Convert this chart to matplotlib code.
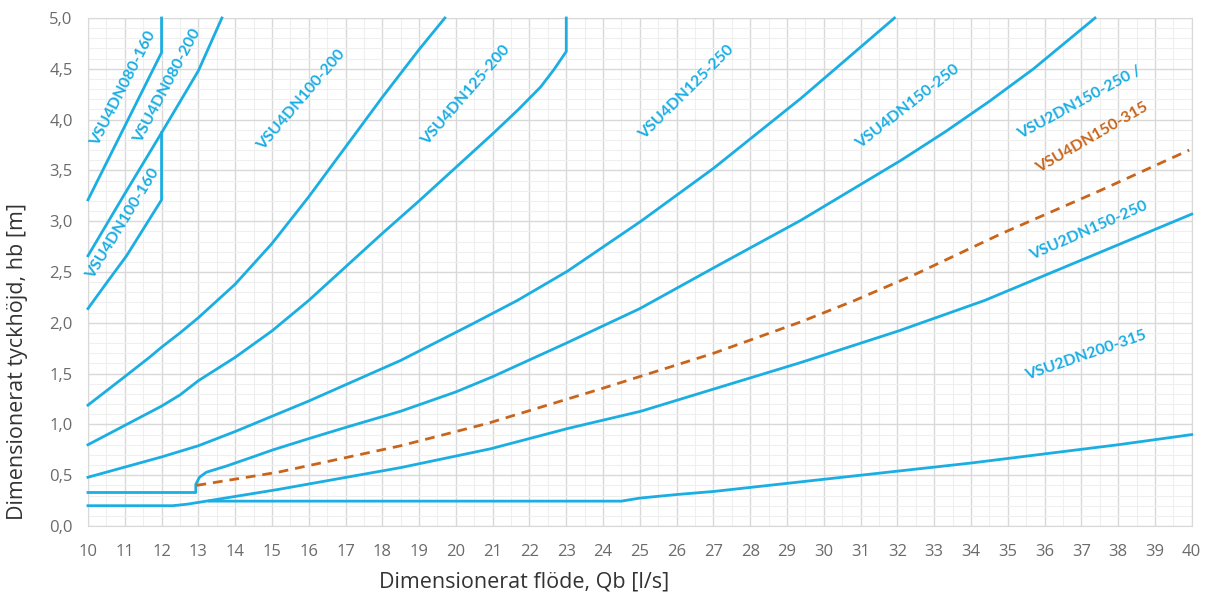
import matplotlib
matplotlib.use("Agg")
import matplotlib.pyplot as plt
from matplotlib.ticker import MultipleLocator, FuncFormatter

# flöde Qb [l/s] och tryckhöjd hb [m] per ventilkombination
x_080_160 = [10, 12, 12]
y_080_160 = [3.21, 4.66, 5.0]

x_080_200 = [10, 11, 12, 13, 13.64]
y_080_200 = [2.66, 3.27, 3.87, 4.48, 5.0]

x_100_160 = [10, 10.5, 11.05, 12, 12]
y_100_160 = [2.14, 2.39, 2.66, 3.21, 3.87]

x_100_200 = [10, 11, 11.67, 12, 12.5, 13, 14, 15, 16, 17, 18, 19, 19.7]
y_100_200 = [1.19, 1.47, 1.66, 1.76, 1.90, 2.05, 2.38, 2.78, 3.24, 3.73, 4.22, 4.69, 5.0]

x_125_200 = [10, 11, 12, 12.5, 13, 14, 15, 16, 17, 18, 19, 20, 21, 21.7, 22.3, 22.66, 23.0, 23.0]
y_125_200 = [0.80, 0.99, 1.18, 1.29, 1.43, 1.66, 1.92, 2.22, 2.55, 2.88, 3.20, 3.53, 3.86, 4.10, 4.32, 4.49, 4.67, 5.0]

x_125_250 = [10, 11, 12, 13, 14, 15, 16, 17, 18.5, 20.4, 21.67, 23.04, 25.03, 27.0, 29.38, 31.92]
y_125_250 = [0.48, 0.58, 0.68, 0.79, 0.93, 1.08, 1.23, 1.39, 1.63, 1.98, 2.22, 2.51, 3.0, 3.52, 4.21, 5.0]

x_150_250 = [10, 12.93, 12.93, 13.03, 13.22, 13.76, 14.4, 15.03, 16, 17, 18.5, 20.0, 21.0,
             23.0, 25.0, 27.0, 29.38, 32.1, 33.3, 34.5, 35.7, 37.37]
y_150_250 = [0.33, 0.33, 0.41, 0.48, 0.53, 0.59, 0.67, 0.75, 0.86, 0.97, 1.13, 1.32, 1.47,
             1.80, 2.14, 2.54, 3.01, 3.60, 3.88, 4.18, 4.50, 5.0]

x_4dn150_315 = [12.95, 15.17, 18.5, 20.86, 23.94, 27, 29.38, 30.84, 32.5, 34.84, 37.5, 39.93]
y_4dn150_315 = [0.40, 0.53, 0.79, 1.01, 1.35, 1.70, 2.01, 2.22, 2.48, 2.88, 3.30, 3.70]

x_2dn150_250 = [10, 12.3, 12.7, 13.3, 15.17, 18.5, 20.94, 23.04, 25.03, 29.38, 32.03, 34.37, 40.0]
y_2dn150_250 = [0.20, 0.20, 0.215, 0.25, 0.36, 0.575, 0.76, 0.96, 1.13, 1.61, 1.92, 2.22, 3.07]

x_2dn200_315 = [13.3, 24.5, 25, 26, 27, 28, 29, 30, 31, 32, 34, 36, 38, 40]
y_2dn200_315 = [0.245, 0.245, 0.275, 0.31, 0.34, 0.38, 0.42, 0.46, 0.50, 0.54, 0.62, 0.71, 0.80, 0.90]

blue = "#1BAEE3"
orange = "#C8651B"
grey = "#6b6b6b"

# etiketter: text, x, y, vinkel, färg
labels = [
    ("VSU4DN080-160", 10.95, 4.31, 63, blue),
    ("VSU4DN080-200", 12.15, 4.33, 62, blue),
    ("VSU4DN100-160", 10.95, 2.97, 58.5, blue),
    ("VSU4DN100-200", 15.79, 4.19, 49.5, blue),
    ("VSU4DN125-200", 20.27, 4.24, 49, blue),
    ("VSU4DN125-250", 26.28, 4.27, 44.7, blue),
    ("VSU4DN150-250", 32.28, 4.13, 38, blue),
    ("VSU2DN150-250 /", 36.96, 4.17, 28.4, blue),
    ("VSU4DN150-315", 37.28, 3.82, 30, orange),
    ("VSU2DN150-250", 37.2, 2.91, 23.7, blue),
    ("VSU2DN200-315", 37.12, 1.68, 19, blue),
]

fig = plt.figure(figsize=(12.05, 5.96), dpi=100)
ax = fig.add_axes([0.073, 0.1174, 0.916, 0.8524])

lw = 2.0
for xs, ys in [(x_080_160, y_080_160), (x_080_200, y_080_200), (x_100_160, y_100_160),
               (x_100_200, y_100_200), (x_125_200, y_125_200), (x_125_250, y_125_250),
               (x_150_250, y_150_250), (x_2dn150_250, y_2dn150_250),
               (x_2dn200_315, y_2dn200_315)]:
    ax.plot(xs, ys, color=blue, lw=lw, solid_joinstyle="round", clip_on=False, zorder=3)

ax.plot(x_4dn150_315, y_4dn150_315, color=orange, lw=lw, dashes=(3.5, 2.5), zorder=3)

for txt, tx, ty, rot, col in labels:
    ax.text(tx, ty, txt, color=col, rotation=rot, rotation_mode="anchor",
            ha="center", va="center", fontsize=11.5, fontweight="bold", family="Lato")

ax.set_xlim(10, 40)
ax.set_ylim(0, 5)
ax.xaxis.set_major_locator(MultipleLocator(1))
ax.xaxis.set_minor_locator(MultipleLocator(0.5))
ax.yaxis.set_major_locator(MultipleLocator(0.5))
ax.yaxis.set_minor_locator(MultipleLocator(0.1))
ax.yaxis.set_major_formatter(FuncFormatter(lambda v, p: f"{v:.1f}".replace(".", ",")))

ax.grid(which="major", color="#d9d9d9", lw=1.0)
ax.grid(which="minor", color="#efefef", lw=0.8)
ax.set_axisbelow(True)
for s in ax.spines.values():
    s.set_color("#d9d9d9")
ax.tick_params(which="both", length=0, labelsize=12, labelcolor=grey)
ax.tick_params(axis="x", pad=13)
ax.tick_params(axis="y", pad=11)
for t in ax.get_xticklabels() + ax.get_yticklabels():
    t.set_family("Open Sans")

ax.set_xlabel("Dimensionerat flöde, Qb [l/s]", fontsize=15.5, color="#333333", family="Open Sans")
ax.xaxis.set_label_coords(0.3955, -0.09)
ax.set_ylabel("Dimensionerat tyckhöjd, hb [m]", fontsize=15.5, color="#333333", family="Open Sans")
ax.yaxis.set_label_coords(-0.054, 0.323)

fig.savefig("out.png", dpi=100)
